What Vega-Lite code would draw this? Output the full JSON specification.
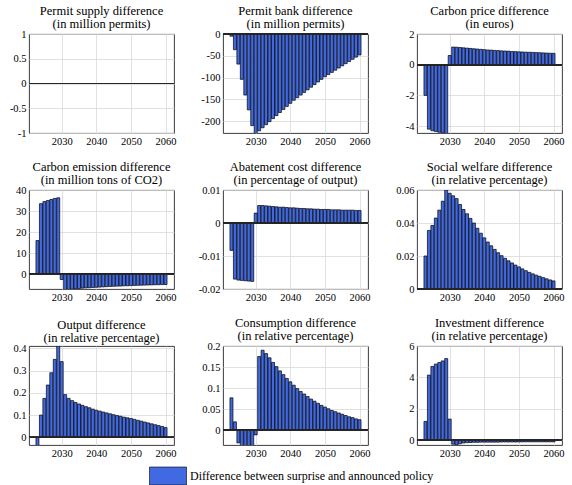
{
"$schema":"https://vega.github.io/schema/vega-lite/v6.json",
"background":"white",
"padding":{"left":8,"top":4,"right":0,"bottom":0},
"data":{"values":[
{"year":2023,"supply":0,"bank":-5,"price":-2.0,"emission":16,"abatement":-0.0083,"welfare":0.0200,"output":-0.04,"consumption":0.077,"investment":1.2},
{"year":2024,"supply":0,"bank":-36,"price":-4.2,"emission":33.5,"abatement":-0.0170,"welfare":0.0355,"output":0.100,"consumption":0.020,"investment":4.15},
{"year":2025,"supply":0,"bank":-69,"price":-4.3,"emission":34.5,"abatement":-0.0173,"welfare":0.0385,"output":0.175,"consumption":-0.030,"investment":4.7},
{"year":2026,"supply":0,"bank":-104,"price":-4.35,"emission":35,"abatement":-0.0174,"welfare":0.0430,"output":0.235,"consumption":-0.040,"investment":4.85},
{"year":2027,"supply":0,"bank":-140,"price":-4.4,"emission":35.5,"abatement":-0.0175,"welfare":0.0478,"output":0.290,"consumption":-0.040,"investment":4.95},
{"year":2028,"supply":0,"bank":-174,"price":-4.45,"emission":36,"abatement":-0.0176,"welfare":0.0532,"output":0.350,"consumption":-0.040,"investment":5.05},
{"year":2029,"supply":0,"bank":-210,"price":-4.5,"emission":36.3,"abatement":-0.0177,"welfare":0.0600,"output":0.410,"consumption":-0.040,"investment":5.2},
{"year":2030,"supply":0,"bank":-230,"price":0.6,"emission":-2.5,"abatement":0.0030,"welfare":0.0580,"output":0.340,"consumption":-0.011,"investment":1.35},
{"year":2031,"supply":0,"bank":-222,"price":1.15,"emission":-7.3,"abatement":0.0053,"welfare":0.0565,"output":0.192,"consumption":0.175,"investment":-0.25},
{"year":2032,"supply":0,"bank":-215,"price":1.14,"emission":-7.2,"abatement":0.0053,"welfare":0.0548,"output":0.175,"consumption":0.190,"investment":-0.3},
{"year":2033,"supply":0,"bank":-208,"price":1.12,"emission":-7.1,"abatement":0.0052,"welfare":0.0512,"output":0.165,"consumption":0.182,"investment":-0.22},
{"year":2034,"supply":0,"bank":-201,"price":1.10,"emission":-7.0,"abatement":0.0051,"welfare":0.0482,"output":0.157,"consumption":0.172,"investment":-0.17},
{"year":2035,"supply":0,"bank":-194,"price":1.08,"emission":-6.8,"abatement":0.0050,"welfare":0.0456,"output":0.150,"consumption":0.161,"investment":-0.15},
{"year":2036,"supply":0,"bank":-187,"price":1.06,"emission":-6.6,"abatement":0.0049,"welfare":0.0428,"output":0.144,"consumption":0.151,"investment":-0.14},
{"year":2037,"supply":0,"bank":-180,"price":1.04,"emission":-6.5,"abatement":0.0048,"welfare":0.0400,"output":0.138,"consumption":0.141,"investment":-0.13},
{"year":2038,"supply":0,"bank":-173,"price":1.02,"emission":-6.4,"abatement":0.0048,"welfare":0.0368,"output":0.133,"consumption":0.132,"investment":-0.13},
{"year":2039,"supply":0,"bank":-166,"price":1.00,"emission":-6.3,"abatement":0.0047,"welfare":0.0338,"output":0.127,"consumption":0.123,"investment":-0.12},
{"year":2040,"supply":0,"bank":-159,"price":0.98,"emission":-6.2,"abatement":0.0046,"welfare":0.0310,"output":0.122,"consumption":0.115,"investment":-0.12},
{"year":2041,"supply":0,"bank":-152,"price":0.96,"emission":-6.1,"abatement":0.0046,"welfare":0.0285,"output":0.118,"consumption":0.107,"investment":-0.12},
{"year":2042,"supply":0,"bank":-146,"price":0.95,"emission":-6.0,"abatement":0.0045,"welfare":0.0262,"output":0.114,"consumption":0.099,"investment":-0.12},
{"year":2043,"supply":0,"bank":-140,"price":0.93,"emission":-5.9,"abatement":0.0044,"welfare":0.0240,"output":0.110,"consumption":0.092,"investment":-0.12},
{"year":2044,"supply":0,"bank":-134,"price":0.92,"emission":-5.8,"abatement":0.0044,"welfare":0.0220,"output":0.106,"consumption":0.086,"investment":-0.12},
{"year":2045,"supply":0,"bank":-128,"price":0.90,"emission":-5.7,"abatement":0.0043,"welfare":0.0202,"output":0.102,"consumption":0.080,"investment":-0.11},
{"year":2046,"supply":0,"bank":-122,"price":0.89,"emission":-5.65,"abatement":0.0043,"welfare":0.0186,"output":0.098,"consumption":0.074,"investment":-0.11},
{"year":2047,"supply":0,"bank":-116,"price":0.88,"emission":-5.6,"abatement":0.0042,"welfare":0.0171,"output":0.095,"consumption":0.069,"investment":-0.11},
{"year":2048,"supply":0,"bank":-110,"price":0.86,"emission":-5.5,"abatement":0.0042,"welfare":0.0158,"output":0.091,"consumption":0.064,"investment":-0.11},
{"year":2049,"supply":0,"bank":-104,"price":0.85,"emission":-5.45,"abatement":0.0041,"welfare":0.0145,"output":0.088,"consumption":0.059,"investment":-0.11},
{"year":2050,"supply":0,"bank":-98,"price":0.84,"emission":-5.4,"abatement":0.0041,"welfare":0.0134,"output":0.085,"consumption":0.055,"investment":-0.11},
{"year":2051,"supply":0,"bank":-93,"price":0.83,"emission":-5.3,"abatement":0.0041,"welfare":0.0122,"output":0.081,"consumption":0.051,"investment":-0.1},
{"year":2052,"supply":0,"bank":-88,"price":0.82,"emission":-5.25,"abatement":0.0040,"welfare":0.0111,"output":0.077,"consumption":0.047,"investment":-0.1},
{"year":2053,"supply":0,"bank":-83,"price":0.81,"emission":-5.2,"abatement":0.0040,"welfare":0.0101,"output":0.073,"consumption":0.044,"investment":-0.1},
{"year":2054,"supply":0,"bank":-78,"price":0.80,"emission":-5.15,"abatement":0.0040,"welfare":0.0092,"output":0.069,"consumption":0.041,"investment":-0.1},
{"year":2055,"supply":0,"bank":-73,"price":0.79,"emission":-5.1,"abatement":0.0039,"welfare":0.0084,"output":0.065,"consumption":0.038,"investment":-0.1},
{"year":2056,"supply":0,"bank":-68,"price":0.78,"emission":-5.05,"abatement":0.0039,"welfare":0.0077,"output":0.061,"consumption":0.035,"investment":-0.1},
{"year":2057,"supply":0,"bank":-63,"price":0.77,"emission":-5.0,"abatement":0.0039,"welfare":0.0069,"output":0.057,"consumption":0.032,"investment":-0.1},
{"year":2058,"supply":0,"bank":-58,"price":0.76,"emission":-4.95,"abatement":0.0039,"welfare":0.0062,"output":0.053,"consumption":0.030,"investment":-0.1},
{"year":2059,"supply":0,"bank":-53,"price":0.75,"emission":-4.9,"abatement":0.0038,"welfare":0.0055,"output":0.049,"consumption":0.027,"investment":-0.1},
{"year":2060,"supply":0,"bank":-48,"price":0.74,"emission":-4.85,"abatement":0.0038,"welfare":0.0049,"output":0.044,"consumption":0.025,"investment":-0.1}
]},
"columns":3,
"spacing":{"row":57,"column":49},
"bounds":"flush",
"resolve":{"scale":{"color":"shared"},"legend":{"color":"shared"}},
"concat":[
{"title":{"text":["Permit supply difference","(in million permits)"]},"width":145,"height":99,"layer":[
 {"mark":{"type":"bar","width":3,"clip":true,"stroke":"#000","strokeWidth":0.7},"encoding":{
  "x":{"field":"year","type":"quantitative","title":null,"scale":{"domain":[2022,2061],"nice":false,"zero":false},"axis":{"values":[2030,2040,2050,2060],"labelExpr":"'' + datum.value","labelOverlap":false}},
  "y":{"field":"supply","type":"quantitative","title":null,"scale":{"domain":[-1,1],"nice":false},"axis":{"values":[-1,-0.5,0,0.5,1],"tickCount":5,"labelOverlap":false,"labelExpr":"'' + datum.value"}},
  "color":{"datum":"Difference between surprise and announced policy","scale":{"range":["#4169e1"]},"legend":{"orient":"none","legendX":120,"legendY":423,"symbolType":"M-1,-0.486H1V0.486H-1Z","symbolSize":1369,"symbolStrokeColor":"#000","symbolStrokeWidth":0.6,"labelFont":"Liberation Serif","labelFontSize":12,"labelColor":"#000","labelOffset":3,"labelLimit":400,"title":null,"padding":0}}}},
 {"mark":{"type":"rule","color":"#262626","strokeWidth":0.6},"encoding":{"y":{"datum":0}}}]},
{"title":{"text":["Permit bank difference","(in million permits)"]},"width":145,"height":99,"layer":[
 {"mark":{"type":"bar","width":3,"clip":true,"stroke":"#000","strokeWidth":0.7},"encoding":{
  "x":{"field":"year","type":"quantitative","title":null,"scale":{"domain":[2022,2061],"nice":false,"zero":false},"axis":{"values":[2030,2040,2050,2060],"labelExpr":"'' + datum.value","labelOverlap":false}},
  "y":{"field":"bank","type":"quantitative","title":null,"scale":{"domain":[-227,0],"nice":false},"axis":{"values":[-200,-150,-100,-50,0],"tickCount":5,"labelOverlap":false,"labelExpr":"'' + datum.value"}},
  "color":{"datum":"Difference between surprise and announced policy","scale":{"range":["#4169e1"]},"legend":{"orient":"none","legendX":120,"legendY":423,"symbolType":"M-1,-0.486H1V0.486H-1Z","symbolSize":1369,"symbolStrokeColor":"#000","symbolStrokeWidth":0.6,"labelFont":"Liberation Serif","labelFontSize":12,"labelColor":"#000","labelOffset":3,"labelLimit":400,"title":null,"padding":0}}}},
 {"mark":{"type":"rule","color":"#262626","strokeWidth":0.6},"encoding":{"y":{"datum":0}}}]},
{"title":{"text":["Carbon price difference","(in euros)"]},"width":145,"height":99,"layer":[
 {"mark":{"type":"bar","width":3,"clip":true,"stroke":"#000","strokeWidth":0.7},"encoding":{
  "x":{"field":"year","type":"quantitative","title":null,"scale":{"domain":[2022,2061],"nice":false,"zero":false},"axis":{"values":[2030,2040,2050,2060],"labelExpr":"'' + datum.value","labelOverlap":false}},
  "y":{"field":"price","type":"quantitative","title":null,"scale":{"domain":[-4.45,2],"nice":false},"axis":{"values":[-4,-2,0,2],"tickCount":4,"labelOverlap":false,"labelExpr":"'' + datum.value"}},
  "color":{"datum":"Difference between surprise and announced policy","scale":{"range":["#4169e1"]},"legend":{"orient":"none","legendX":120,"legendY":423,"symbolType":"M-1,-0.486H1V0.486H-1Z","symbolSize":1369,"symbolStrokeColor":"#000","symbolStrokeWidth":0.6,"labelFont":"Liberation Serif","labelFontSize":12,"labelColor":"#000","labelOffset":3,"labelLimit":400,"title":null,"padding":0}}}},
 {"mark":{"type":"rule","color":"#262626","strokeWidth":0.6},"encoding":{"y":{"datum":0}}}]},
{"title":{"text":["Carbon emission difference","(in million tons of CO2)"]},"width":145,"height":99,"layer":[
 {"mark":{"type":"bar","width":3,"clip":true,"stroke":"#000","strokeWidth":0.7},"encoding":{
  "x":{"field":"year","type":"quantitative","title":null,"scale":{"domain":[2022,2061],"nice":false,"zero":false},"axis":{"values":[2030,2040,2050,2060],"labelExpr":"'' + datum.value","labelOverlap":false}},
  "y":{"field":"emission","type":"quantitative","title":null,"scale":{"domain":[-7,40],"nice":false},"axis":{"values":[0,10,20,30,40],"tickCount":5,"labelOverlap":false,"labelExpr":"'' + datum.value"}},
  "color":{"datum":"Difference between surprise and announced policy","scale":{"range":["#4169e1"]},"legend":{"orient":"none","legendX":120,"legendY":423,"symbolType":"M-1,-0.486H1V0.486H-1Z","symbolSize":1369,"symbolStrokeColor":"#000","symbolStrokeWidth":0.6,"labelFont":"Liberation Serif","labelFontSize":12,"labelColor":"#000","labelOffset":3,"labelLimit":400,"title":null,"padding":0}}}},
 {"mark":{"type":"rule","color":"#262626","strokeWidth":0.6},"encoding":{"y":{"datum":0}}}]},
{"title":{"text":["Abatement cost difference","(in percentage of output)"]},"width":145,"height":99,"layer":[
 {"mark":{"type":"bar","width":3,"clip":true,"stroke":"#000","strokeWidth":0.7},"encoding":{
  "x":{"field":"year","type":"quantitative","title":null,"scale":{"domain":[2022,2061],"nice":false,"zero":false},"axis":{"values":[2030,2040,2050,2060],"labelExpr":"'' + datum.value","labelOverlap":false}},
  "y":{"field":"abatement","type":"quantitative","title":null,"scale":{"domain":[-0.02,0.01],"nice":false},"axis":{"values":[-0.02,-0.01,0,0.01],"tickCount":4,"labelOverlap":false,"labelExpr":"'' + datum.value"}},
  "color":{"datum":"Difference between surprise and announced policy","scale":{"range":["#4169e1"]},"legend":{"orient":"none","legendX":120,"legendY":423,"symbolType":"M-1,-0.486H1V0.486H-1Z","symbolSize":1369,"symbolStrokeColor":"#000","symbolStrokeWidth":0.6,"labelFont":"Liberation Serif","labelFontSize":12,"labelColor":"#000","labelOffset":3,"labelLimit":400,"title":null,"padding":0}}}},
 {"mark":{"type":"rule","color":"#262626","strokeWidth":0.6},"encoding":{"y":{"datum":0}}}]},
{"title":{"text":["Social welfare difference","(in relative percentage)"]},"width":145,"height":99,"layer":[
 {"mark":{"type":"bar","width":3,"clip":true,"stroke":"#000","strokeWidth":0.7},"encoding":{
  "x":{"field":"year","type":"quantitative","title":null,"scale":{"domain":[2022,2061],"nice":false,"zero":false},"axis":{"values":[2030,2040,2050,2060],"labelExpr":"'' + datum.value","labelOverlap":false}},
  "y":{"field":"welfare","type":"quantitative","title":null,"scale":{"domain":[0,0.06],"nice":false},"axis":{"values":[0,0.02,0.04,0.06],"tickCount":4,"labelOverlap":false,"labelExpr":"'' + datum.value"}},
  "color":{"datum":"Difference between surprise and announced policy","scale":{"range":["#4169e1"]},"legend":{"orient":"none","legendX":120,"legendY":423,"symbolType":"M-1,-0.486H1V0.486H-1Z","symbolSize":1369,"symbolStrokeColor":"#000","symbolStrokeWidth":0.6,"labelFont":"Liberation Serif","labelFontSize":12,"labelColor":"#000","labelOffset":3,"labelLimit":400,"title":null,"padding":0}}}},
 {"mark":{"type":"rule","color":"#262626","strokeWidth":0.6},"encoding":{"y":{"datum":0}}}]},
{"title":{"text":["Output difference","(in relative percentage)"]},"width":145,"height":99,"layer":[
 {"mark":{"type":"bar","width":3,"clip":true,"stroke":"#000","strokeWidth":0.7},"encoding":{
  "x":{"field":"year","type":"quantitative","title":null,"scale":{"domain":[2022,2061],"nice":false,"zero":false},"axis":{"values":[2030,2040,2050,2060],"labelExpr":"'' + datum.value","labelOverlap":false}},
  "y":{"field":"output","type":"quantitative","title":null,"scale":{"domain":[-0.034,0.41],"nice":false},"axis":{"values":[0,0.1,0.2,0.3,0.4],"tickCount":5,"labelOverlap":false,"labelExpr":"'' + datum.value"}},
  "color":{"datum":"Difference between surprise and announced policy","scale":{"range":["#4169e1"]},"legend":{"orient":"none","legendX":120,"legendY":423,"symbolType":"M-1,-0.486H1V0.486H-1Z","symbolSize":1369,"symbolStrokeColor":"#000","symbolStrokeWidth":0.6,"labelFont":"Liberation Serif","labelFontSize":12,"labelColor":"#000","labelOffset":3,"labelLimit":400,"title":null,"padding":0}}}},
 {"mark":{"type":"rule","color":"#262626","strokeWidth":0.6},"encoding":{"y":{"datum":0}}}]},
{"title":{"text":["Consumption difference","(in relative percentage)"]},"width":145,"height":99,"layer":[
 {"mark":{"type":"bar","width":3,"clip":true,"stroke":"#000","strokeWidth":0.7},"encoding":{
  "x":{"field":"year","type":"quantitative","title":null,"scale":{"domain":[2022,2061],"nice":false,"zero":false},"axis":{"values":[2030,2040,2050,2060],"labelExpr":"'' + datum.value","labelOverlap":false}},
  "y":{"field":"consumption","type":"quantitative","title":null,"scale":{"domain":[-0.035,0.2],"nice":false},"axis":{"values":[0,0.05,0.1,0.15,0.2],"tickCount":5,"labelOverlap":false,"labelExpr":"'' + datum.value"}},
  "color":{"datum":"Difference between surprise and announced policy","scale":{"range":["#4169e1"]},"legend":{"orient":"none","legendX":120,"legendY":423,"symbolType":"M-1,-0.486H1V0.486H-1Z","symbolSize":1369,"symbolStrokeColor":"#000","symbolStrokeWidth":0.6,"labelFont":"Liberation Serif","labelFontSize":12,"labelColor":"#000","labelOffset":3,"labelLimit":400,"title":null,"padding":0}}}},
 {"mark":{"type":"rule","color":"#262626","strokeWidth":0.6},"encoding":{"y":{"datum":0}}}]},
{"title":{"text":["Investment difference","(in relative percentage)"]},"width":145,"height":99,"layer":[
 {"mark":{"type":"bar","width":3,"clip":true,"stroke":"#000","strokeWidth":0.7},"encoding":{
  "x":{"field":"year","type":"quantitative","title":null,"scale":{"domain":[2022,2061],"nice":false,"zero":false},"axis":{"values":[2030,2040,2050,2060],"labelExpr":"'' + datum.value","labelOverlap":false}},
  "y":{"field":"investment","type":"quantitative","title":null,"scale":{"domain":[-0.3,6],"nice":false},"axis":{"values":[0,2,4,6],"tickCount":4,"labelOverlap":false,"labelExpr":"'' + datum.value"}},
  "color":{"datum":"Difference between surprise and announced policy","scale":{"range":["#4169e1"]},"legend":{"orient":"none","legendX":120,"legendY":423,"symbolType":"M-1,-0.486H1V0.486H-1Z","symbolSize":1369,"symbolStrokeColor":"#000","symbolStrokeWidth":0.6,"labelFont":"Liberation Serif","labelFontSize":12,"labelColor":"#000","labelOffset":3,"labelLimit":400,"title":null,"padding":0}}}},
 {"mark":{"type":"rule","color":"#262626","strokeWidth":0.6},"encoding":{"y":{"datum":0}}}]}
],
"config":{
 "font":"Liberation Serif",
 "view":{"stroke":"#262626","strokeWidth":0.9},
 "axis":{"labelFont":"Liberation Serif","labelFontSize":10.5,"labelColor":"#000","ticks":false,"labelPadding":3,"domain":false,"gridColor":"#d9d9d9","gridWidth":0.8,"labelFlush":false},
 "title":{"font":"Liberation Serif","fontSize":12.5,"fontWeight":"normal","color":"#000","offset":-1,"lineHeight":13},
 "legend":{"labelFont":"Liberation Serif"}
}
}
